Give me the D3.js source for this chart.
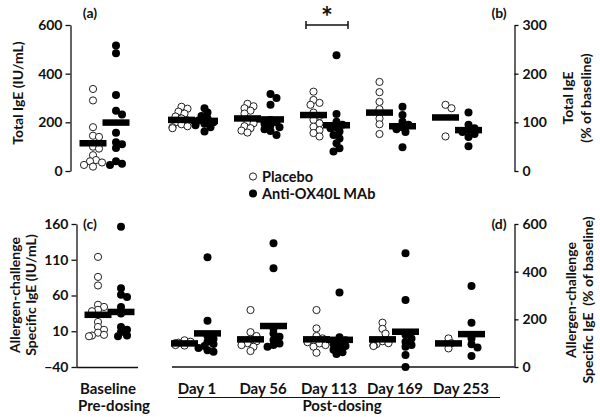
<!DOCTYPE html>
<html><head><meta charset="utf-8">
<script src="https://cdn.jsdelivr.net/npm/d3@7"></script>
<style>
body{margin:0;background:#fff;}
text{font-family:Lato,"Open Sans",sans-serif;font-weight:700;fill:#111;}
</style></head>
<body>
<script>
// ---------- data ----------
const days = ["Day 1","Day 56","Day 113","Day 169","Day 253"];
const groups = ["Placebo","Anti-OX40L MAb"];

// (a) Total IgE (IU/mL) at baseline
const totalBasePlacebo = [337,290,180,145,140,100,92,65,45,40,35,25,18];
const totalBaseAnti = [516,484,312,248,232,157,118,110,95,40,30,25];
const totalBaseMeans = [114,199];

// (b) Total IgE (% of baseline)
const totalPctPlacebo = [
  [132,128,122,118,112,108,104,100,96,92,90,88],
  [138,133,129,124,118,101,98,92,88,83,79],
  [163,146,140,136,120,113,105,98,91,84,78,71],
  [183,162,142,127,108,96,76],
  [136,129,71]
];
const totalPctAnti = [
  [129,120,113,108,104,100,97,94,90,81],
  [158,150,136,105,100,97,94,90,86,82,74],
  [238,117,101,95,90,88,81,74,67,57,47,40],
  [132,115,101,95,90,86,80,49],
  [120,95,88,84,80,76,70,51]
];
const totalPctPlaceboMeans = [105,108,115,120,110];
const totalPctAntiMeans = [103,106,94,92,84];

// (c) Allergen-challenge specific IgE (IU/mL) at baseline
const specBasePlacebo = [114,86,74,47,44,40,38,23,16,12,8,5,3,4];
const specBaseAnti = [156,70,61,58,44,35,16,12,9,4,3];
const specBaseMeans = [33,37];

// (d) Allergen-challenge specific IgE (% of baseline)
const specPctPlacebo = [
  [112,106,102,100,98,96,92,90],
  [239,146,130,118,108,100,92,85,67],
  [239,162,130,120,112,104,99,92,85,60],
  [186,160,140,108,100,96,92,90,88],
  [120,100,78]
];
const specPctAnti = [
  [460,194,130,118,106,96,88,80,70,64],
  [519,414,162,141,127,113,99,92,85],
  [313,125,112,104,96,88,80,72,62,55],
  [477,281,135,120,106,92,85,50,0],
  [340,186,120,95,82,46]
];
const specPctPlaceboMeans = [99,116,116,116,99];
const specPctAntiMeans = [141,172,114,148,138];

const ticksA = [0,200,400,600];
const ticksB = [0,100,200,300];
const ticksC = [-40,10,60,110,160];
const ticksD = [0,200,400,600];

// ---------- drawing ----------
const svg = d3.select("body").append("svg").attr("width",600).attr("height",417);

const yA = d3.scaleLinear().domain([0,600]).range([171,25]);
const yB = d3.scaleLinear().domain([0,300]).range([171,25]);
const yC = d3.scaleLinear().domain([-40,160]).range([367,224]);
const yD = d3.scaleLinear().domain([0,600]).range([367,224]);

const xTop = d3.scalePoint().domain(days).range([193,457]);
const xBot = d3.scalePoint().domain(days).range([196,460]);
const xBaseTop = d3.scalePoint().domain(groups).range([93,116]);
const xBaseBot = d3.scalePoint().domain(groups).range([98,121]);
const OFF = 11.5;

function styleAxis(g, size){
  g.selectAll("path,line").attr("stroke","#111").attr("stroke-width",1.3);
  g.selectAll("text").style("font-size",size+"px").style("font-family","Lato, 'Open Sans', sans-serif").style("font-weight","700").attr("fill","#111");
}
svg.append("g").attr("transform","translate(70.5,0)")
  .call(d3.axisLeft(yA).tickValues(ticksA).tickSize(5).tickSizeOuter(0).tickPadding(3))
  .call(g=>styleAxis(g,14));
svg.append("g").attr("transform","translate(514.5,0)")
  .call(d3.axisRight(yB).tickValues(ticksB).tickSize(4).tickSizeOuter(0).tickPadding(4))
  .call(g=>styleAxis(g,14));
svg.append("g").attr("transform","translate(76.5,0)")
  .call(d3.axisLeft(yC).tickValues(ticksC).tickSize(5).tickSizeOuter(0).tickPadding(3))
  .call(g=>styleAxis(g,14));
svg.append("g").attr("transform","translate(514.5,0)")
  .call(d3.axisRight(yD).tickValues(ticksD).tickSize(4).tickSizeOuter(0).tickPadding(4))
  .call(g=>styleAxis(g,14));

// x-axis baselines of bottom panels
svg.append("line").attr("x1",76.5).attr("x2",138).attr("y1",yC(-40)+0.5).attr("y2",yC(-40)+0.5).attr("stroke","#111").attr("stroke-width",1.3);
svg.append("line").attr("x1",172).attr("x2",514.5).attr("y1",yD(0)).attr("y2",yD(0)).attr("stroke","#111").attr("stroke-width",1.3);

function swarm(values, cx, y){
  const pts = values.map(v=>({v, y:y(v)})).sort((a,b)=>a.y-b.y);
  const placed=[];
  const cands=[0,3,-3,6,-6,9,-9];
  pts.forEach(p=>{
    let best=cands[0];
    for(const c of cands){
      if(placed.every(q=>Math.hypot(q.x-(cx+c),q.y-p.y)>=5)){best=c;break;}
      best=c;
    }
    p.x=cx+best; placed.push(p);
  });
  return pts;
}
const dotLayer = svg.append("g");
const barLayer = svg.append("g");
function drawGroup(values, cx, y, filled, mean){
  const pts = swarm(values,cx,y);
  dotLayer.selectAll(null).data(pts).enter().append("circle")
    .attr("cx",d=>d.x).attr("cy",d=>d.y).attr("r",filled?4:3.6)
    .attr("fill",filled?"#000":"#fff").attr("stroke",filled?"none":"#222").attr("stroke-width",1);
  barLayer.append("rect").attr("x",cx-13.5).attr("width",27)
    .attr("y",y(mean)-3.25).attr("height",6.5).attr("fill","#000");
}
// (a)
drawGroup(totalBasePlacebo, xBaseTop("Placebo"), yA, false, totalBaseMeans[0]);
drawGroup(totalBaseAnti, xBaseTop("Anti-OX40L MAb"), yA, true, totalBaseMeans[1]);
// (c)
drawGroup(specBasePlacebo, xBaseBot("Placebo"), yC, false, specBaseMeans[0]);
drawGroup(specBaseAnti, xBaseBot("Anti-OX40L MAb"), yC, true, specBaseMeans[1]);
// (b) and (d)
days.forEach((d,i)=>{
  drawGroup(totalPctPlacebo[i], xTop(d)-OFF, yB, false, totalPctPlaceboMeans[i]);
  drawGroup(totalPctAnti[i], xTop(d)+OFF, yB, true, totalPctAntiMeans[i]);
  drawGroup(specPctPlacebo[i], xBot(d)-OFF, yD, false, specPctPlaceboMeans[i]);
  drawGroup(specPctAnti[i], xBot(d)+OFF, yD, true, specPctAntiMeans[i]);
});

// panel letters
const txt=(x,y,s,size,anchor)=>svg.append("text").attr("x",x).attr("y",y).attr("text-anchor",anchor||"middle").style("font-size",size+"px").text(s);
txt(90,17.5,"(a)",14);
txt(499,17.5,"(b)",14);
txt(90,228.5,"(c)",14);
txt(499,228.5,"(d)",14);

// significance bracket
const bx1=xTop("Day 113")-19, bx2=xTop("Day 113")+23, by=25;
svg.append("path").attr("d",`M${bx1},${by-4}V${by+4}M${bx1},${by}H${bx2}M${bx2},${by-4}V${by+4}`).attr("stroke","#111").attr("stroke-width",1.5).attr("fill","none");
txt((bx1+bx2)/2,27,"*",28);

// legend
svg.append("circle").attr("cx",253).attr("cy",176.5).attr("r",3.6).attr("fill","#fff").attr("stroke","#222");
svg.append("circle").attr("cx",253).attr("cy",193.5).attr("r",4).attr("fill","#000");
txt(262,181.5,"Placebo",14.5,"start");
txt(262,198.5,"Anti-OX40L MAb",14.5,"start");

// axis titles
function vtext(x,y,s,size){
  svg.append("text").attr("transform",`translate(${x},${y}) rotate(-90)`).attr("text-anchor","middle")
    .attr("dominant-baseline","central").style("font-size",size+"px").style("white-space","pre").text(s);
}
vtext(17,93,"Total IgE (IU/mL)",14);
vtext(567,98,"Total IgE",14);
vtext(585,98,"(% of baseline)",14);
vtext(14,295,"Allergen-challenge",14);
vtext(30,295,"Specific IgE (IU/mL)",14);
vtext(570,300,"Allergen-challenge",14);
vtext(587,300,"Specific IgE  (% of baseline)",14);

// x labels
txt(108,394,"Baseline",15);
txt(114,411,"Pre-dosing",15);
days.forEach(d=>txt(xBot(d)+1,394,d,15));
svg.append("line").attr("x1",178).attr("x2",500).attr("y1",397.5).attr("y2",397.5).attr("stroke","#111").attr("stroke-width",1.2);
txt(342,411,"Post-dosing",15);
</script>
</body></html>
